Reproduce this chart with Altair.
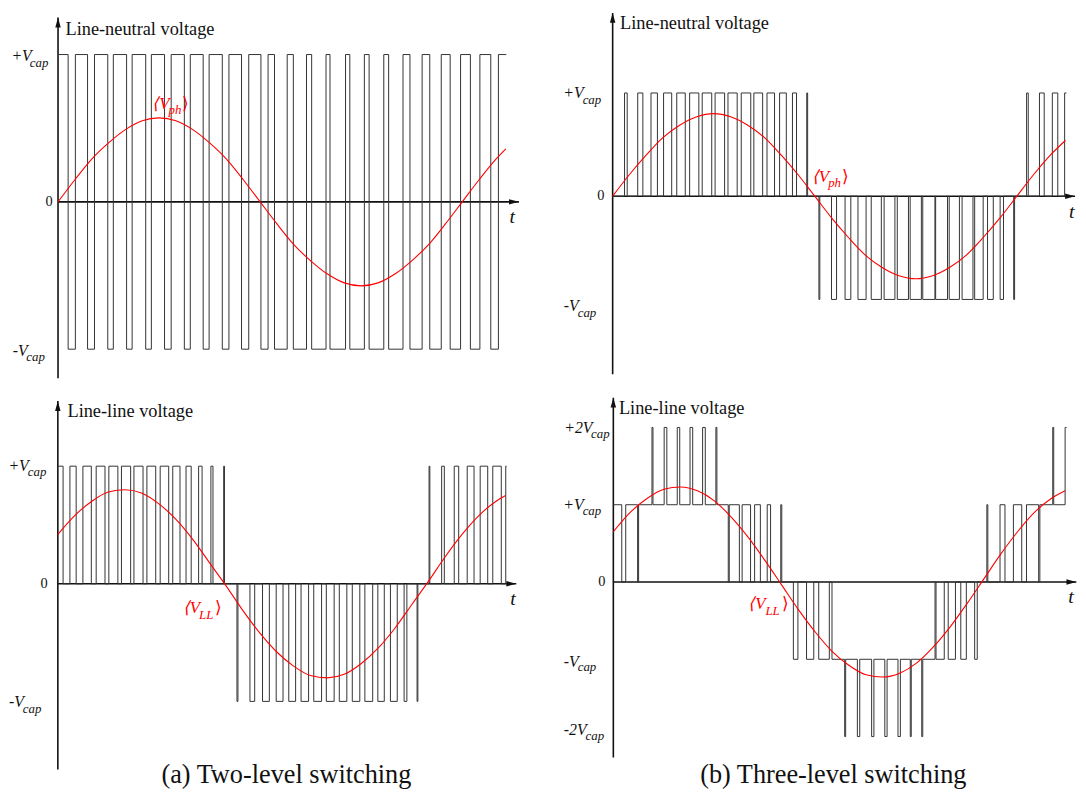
import altair as alt
import pandas as pd

# ================= DATA =================
# t: time in the figure's horizontal units (0 = vertical axis), v: voltage in units of Vcap.

# (a) two-level, line-neutral: switching instants and the level that follows each one
TL_EDGES = [0, 10.2, 17.5, 29.8, 36.8, 50.2, 55.8, 69.2, 74.8, 88.5,
            94.2, 107.5, 114.2, 127.5, 133.5, 146.5, 152.5, 165.8, 172.5, 185.2,
            192.5, 204.8, 212.0, 218.5, 231.3, 237.5, 250.8, 256.0, 270.5, 274.5,
            290.2, 294.5, 309.2, 314.0, 328.8, 333.7, 348.2, 355.2, 367.5, 375.2,
            386.8, 395.8, 406.3, 416.2, 425.8, 436.8, 444.5, 452.5]
TL_LEVELS = [1, -1, 1, -1, 1, -1, 1, -1, 1, -1,
             1, -1, 1, -1, 1, -1, 1, -1, 1, -1,
             1, -1, 1, -1, 1, -1, 1, -1, 1, -1,
             1, -1, 1, -1, 1, -1, 1, -1, 1, -1,
             1, -1, 1, -1, 1, -1, 1]

# (a) two-level, line-line
BL_EDGES = [0, 5.3, 12.2, 18.5, 25.3, 33.8, 38.7, 47.6, 51.5, 60.6,
            64.2, 73.5, 76.8, 86.0, 89.9, 98.8, 103.3, 111.9, 116.0, 123.3,
            129.4, 134.6, 142.1, 145.6, 154.5, 156.6, 167.4, 168.2,
            180.8, 181.8, 193.9, 198.7, 206.6, 213.5, 220.4, 227.3, 233.1, 240.0,
            245.5, 253.1, 258.3, 266.2, 271.0, 278.9, 284.1, 291.7, 297.2, 304.8,
            309.9, 317.8, 323.0, 329.5, 335.7, 342.6, 349.5, 352.3, 362.6, 363.4,
            374.7, 375.5, 387.4, 390.1, 400.1, 404.6, 413.2, 420.1, 426.3, 433.9,
            439.0, 447.6, 452.1, 453.0]
BL_LEVELS = [1, 0, 1, 0, 1, 0, 1, 0, 1, 0,
             1, 0, 1, 0, 1, 0, 1, 0, 1, 0,
             1, 0, 1, 0, 1, 0, 1, 0,
             -1, 0, -1, 0, -1, 0, -1, 0, -1, 0,
             -1, 0, -1, 0, -1, 0, -1, 0, -1, 0,
             -1, 0, -1, 0, -1, 0, -1, 0, -1, 0,
             1, 0, 1, 0, 1, 0, 1, 0, 1, 0,
             1, 0, 1]

# (b) three-level, line-neutral
TR_EDGES = [0, 12.0, 14.7, 25.3, 30.5, 38.7, 45.2, 51.4, 59.6, 64.7,
            73.3, 77.7, 87.0, 90.4, 100.0, 103.4, 113.0, 116.4, 125.7, 129.8,
            139.4, 142.5, 151.4, 155.8, 163.4, 168.5, 175.3, 181.5, 185.6, 195.9,
            196.8,
            208.2, 209.1, 220.9, 226.0, 234.6, 240.4, 247.6, 255.8, 261.0, 271.2,
            274.0, 284.9, 287.3, 298.6, 300.3, 311.6, 313.0, 325.3, 326.0, 338.0,
            339.7, 350.0, 352.7, 363.7, 365.4, 374.0, 378.4, 384.2, 391.1, 394.5,
            404.8, 405.7,
            417.8, 419.5, 430.8, 435.6, 443.8, 449.3, 456.2, 458.0]
TR_LEVELS = [0, 1, 0, 1, 0, 1, 0, 1, 0, 1,
             0, 1, 0, 1, 0, 1, 0, 1, 0, 1,
             0, 1, 0, 1, 0, 1, 0, 1, 0, 1,
             0,
             -1, 0, -1, 0, -1, 0, -1, 0, -1, 0,
             -1, 0, -1, 0, -1, 0, -1, 0, -1, 0,
             -1, 0, -1, 0, -1, 0, -1, 0, -1, 0,
             -1, 0,
             1, 0, 1, 0, 1, 0, 1]

# (b) three-level, line-line
BR_EDGES = [0, 8.5, 12.5, 24.5, 25.5, 39.0, 40.0, 51.3, 54.0, 64.5,
            67.0, 77.4, 80.1, 90.1, 92.8, 103.5, 104.5, 116.0, 117.0, 127.2,
            130.0, 138.5, 142.6, 148.4, 155.3, 158.7, 169.0, 170.0, 181.7, 186.3,
            195.0, 202.3, 207.3, 218.0, 220.7, 233.5, 234.5, 246.3, 248.7, 260.7,
            263.0, 274.0, 276.3, 287.3, 289.7, 299.7, 300.7, 311.3, 312.3, 324.7,
            325.7, 334.0, 338.0, 345.3, 350.7, 356.3, 364.7, 367.3, 377.0, 378.0,
            390.3, 395.3, 403.8, 412.2, 417.0, 429.3, 430.5, 443.5, 444.5, 456.0,
            457.5]
BR_LEVELS = [1, 0, 1, 0, 1, 2, 1, 2, 1, 2,
             1, 2, 1, 2, 1, 2, 1, 0, 1, 0,
             1, 0, 1, 0, 1, 0, 1, 0, -1, 0,
             -1, 0, -1, 0, -1, -2, -1, -2, -1, -2,
             -1, -2, -1, -2, -1, -2, -1, -2, -1, 0,
             -1, 0, -1, 0, -1, 0, -1, 0, 1, 0,
             1, 0, 1, 0, 1, 0, 1, 2, 1, 2]

# average (fundamental) curves
SINE_T = [0, 17, 34, 51, 68, 85, 102, 119, 136, 153, 170, 187, 204, 221,
          238, 255, 272, 289, 306, 323, 340, 357, 374, 391, 408, 425, 442]
TL_SINE_T = SINE_T + [452]
TL_SINE_V = [0, 0.15, 0.29, 0.40, 0.49, 0.55, 0.57, 0.55, 0.49, 0.40, 0.29, 0.15, 0, -0.15,
             -0.29, -0.40, -0.49, -0.55, -0.57, -0.55, -0.49, -0.40, -0.29, -0.15, 0, 0.15, 0.29, 0.36]
BL_SINE_T = SINE_T + [452]
BL_SINE_V = [0.42, 0.58, 0.70, 0.78, 0.80, 0.77, 0.68, 0.55, 0.38, 0.18, -0.02, -0.23, -0.42, -0.58,
             -0.70, -0.78, -0.80, -0.77, -0.68, -0.55, -0.38, -0.18, 0.02, 0.23, 0.42, 0.58, 0.70, 0.75]
TR_SINE_T = SINE_T + [457]
TR_SINE_V = [0, 0.21, 0.40, 0.57, 0.69, 0.77, 0.80, 0.77, 0.69, 0.57, 0.40, 0.21, 0, -0.21,
             -0.40, -0.57, -0.69, -0.77, -0.80, -0.77, -0.69, -0.57, -0.40, -0.21, 0, 0.21, 0.40, 0.54]
BR_SINE_T = SINE_T + [456]
BR_SINE_V = [0.65, 0.90, 1.08, 1.20, 1.23, 1.18, 1.05, 0.84, 0.58, 0.28, -0.04, -0.36, -0.65, -0.90,
             -1.08, -1.20, -1.23, -1.18, -1.05, -0.84, -0.58, -0.28, 0.04, 0.36, 0.65, 0.90, 1.08, 1.18]

# text: (text, t, v, size, colour, style, align)
INK = "#111111"
RED = "#ff0000"
TL_TEXT = [
    ("Line-neutral voltage", 7.5, 1.17, 18.5, INK, "normal", "left"),
    ("+V", -26.5, 0.99, 16, INK, "italic", "right"),
    ("cap", -28.5, 0.945, 13, INK, "italic", "left"),
    ("0", -5.5, 0.0, 14.5, INK, "normal", "right"),
    ("-V", -30.5, -1.01, 16, INK, "italic", "right"),
    ("cap", -32.0, -1.05, 13, INK, "italic", "left"),
    ("t", 458.5, -0.10, 20, INK, "italic", "center"),
    ("\u27e8V", 95.0, 0.666, 17, RED, "italic", "left"),
    ("ph", 111.5, 0.62, 13, RED, "italic", "left"),
    ("\u27e9", 125.0, 0.666, 17, RED, "normal", "left"),
]
BL_TEXT = [
    ("Line-line voltage", 9.7, 1.47, 18.5, INK, "normal", "left"),
    ("+V", -29.3, 1.0, 16, INK, "italic", "right"),
    ("cap", -30.3, 0.95, 13, INK, "italic", "left"),
    ("0", -10.3, 0.0, 14.5, INK, "normal", "right"),
    ("-V", -34.3, -1.007, 16, INK, "italic", "right"),
    ("cap", -35.3, -1.066, 13, INK, "italic", "left"),
    ("t", 459.4, -0.13, 20, INK, "italic", "center"),
    ("\u27e8V", 126.2, -0.206, 17, RED, "italic", "left"),
    ("LL", 142.5, -0.265, 13, RED, "italic", "left"),
    ("\u27e9", 158.5, -0.206, 17, RED, "normal", "left"),
    ("(a) Two-level switching", 230.7, -1.63, 26.5, INK, "normal", "center"),
]
TR_TEXT = [
    ("Line-neutral voltage", 7.4, 1.68, 18.5, INK, "normal", "left"),
    ("+V", -29.3, 1.0, 16, INK, "italic", "right"),
    ("cap", -30.3, 0.93, 13, INK, "italic", "left"),
    ("0", -8.3, 0.0, 14.5, INK, "normal", "right"),
    ("-V", -34.3, -1.06, 16, INK, "italic", "right"),
    ("cap", -35.3, -1.13, 13, INK, "italic", "left"),
    ("t", 463.5, -0.154, 20, INK, "italic", "center"),
    ("\u27e8V", 201.0, 0.185, 17, RED, "italic", "left"),
    ("ph", 217.5, 0.128, 13, RED, "italic", "left"),
    ("\u27e9", 231.0, 0.185, 17, RED, "normal", "left"),
]
BR_TEXT = [
    ("Line-line voltage", 5.6, 2.256, 18.5, INK, "normal", "left"),
    ("+2V", -21.0, 1.996, 16, INK, "italic", "right"),
    ("cap", -22.5, 1.913, 13, INK, "italic", "left"),
    ("+V", -30.0, 0.996, 16, INK, "italic", "right"),
    ("cap", -31.0, 0.919, 13, INK, "italic", "left"),
    ("0", -8.0, 0.0, 14.5, INK, "normal", "right"),
    ("-V", -35.0, -1.03, 16, INK, "italic", "right"),
    ("cap", -36.0, -1.106, 13, INK, "italic", "left"),
    ("-2V", -27.0, -1.914, 16, INK, "italic", "right"),
    ("cap", -28.0, -1.997, 13, INK, "italic", "left"),
    ("t", 462.0, -0.20, 20, INK, "italic", "center"),
    ("\u27e8V", 136.2, -0.286, 17, RED, "italic", "left"),
    ("LL", 153.5, -0.376, 13, RED, "italic", "left"),
    ("\u27e9", 170.0, -0.286, 17, RED, "normal", "left"),
    ("(b) Three-level switching", 222.0, -2.50, 26.5, INK, "normal", "center"),
]

# ================= LAYOUT (pixels) =================
# panel box on the page, position of the vertical axis / zero line, pixels per Vcap,
# and the extent of the drawn axes (in data units)
LAYOUT = {
    "TL": dict(x0=8, y0=8, w=545, h=382, ax=57.5, zy=199.0, ppv=148.7, vb=-1.197, vt=1.251, tt=465.2),
    "BL": dict(x0=8, y0=390, w=545, h=400, ax=57.3, zy=584.5, ppv=118.7, vb=-1.58, vt=1.554, tt=462.7),
    "TR": dict(x0=553, y0=8, w=533, h=382, ax=617.3, zy=193.3, ppv=104.2, vb=-1.725, vt=1.775, tt=466.7),
    "BR": dict(x0=553, y0=390, w=533, h=400, ax=618.0, zy=582.7, ppv=78.0, vb=-2.27, vt=2.385, tt=467.3),
}

FONT = "Liberation Serif"
ARROW_UP = "M0,-1L0.55,1L-0.55,1Z"
ARROW_RIGHT = "M1,0L-1,-0.55L-1,0.55Z"


def step_frame(edges, levels):
    assert len(levels) == len(edges) - 1, (len(edges), len(levels))
    ts = list(edges)
    vs = list(levels) + [levels[-1]]
    return pd.DataFrame({"t": ts, "v": vs})


def build_panel(edges, levels, sine_t, sine_v, texts, lay):
    assert len(sine_t) == len(sine_v)
    xdom = [lay["x0"] - lay["ax"], lay["x0"] + lay["w"] - lay["ax"]]
    ydom = [(lay["zy"] - (lay["y0"] + lay["h"])) / lay["ppv"], (lay["zy"] - lay["y0"]) / lay["ppv"]]
    xs = alt.Scale(domain=xdom, nice=False, zero=False)
    ys = alt.Scale(domain=ydom, nice=False, zero=False)

    def enc(ch):
        return ch.encode(x=alt.X("t:Q", scale=xs, axis=None), y=alt.Y("v:Q", scale=ys, axis=None))

    layers = []
    # axes
    axes_df = pd.DataFrame([
        {"t": 0, "v": lay["vb"], "t2": 0, "v2": lay["vt"]},
        {"t": 0, "v": 0, "t2": lay["tt"], "v2": 0},
    ])
    layers.append(alt.Chart(axes_df).mark_rule(color=INK, strokeWidth=1.6).encode(
        x=alt.X("t:Q", scale=xs, axis=None), y=alt.Y("v:Q", scale=ys, axis=None),
        x2="t2:Q", y2="v2:Q"))
    layers.append(enc(alt.Chart(pd.DataFrame({"t": [0], "v": [lay["vt"]]})).mark_point(
        shape=ARROW_UP, filled=True, size=100, color=INK, opacity=1, strokeWidth=0, yOffset=5)))
    layers.append(enc(alt.Chart(pd.DataFrame({"t": [lay["tt"]], "v": [0]})).mark_point(
        shape=ARROW_RIGHT, filled=True, size=100, color=INK, opacity=1, strokeWidth=0, xOffset=-5)))
    # switched waveform
    layers.append(enc(alt.Chart(step_frame(edges, levels)).mark_line(
        interpolate="step-after", color="#333333", strokeWidth=1)))
    # average curve
    layers.append(enc(alt.Chart(pd.DataFrame({"t": sine_t, "v": sine_v})).mark_line(
        interpolate="monotone", color=RED, strokeWidth=1.1)))
    # texts
    tdf = pd.DataFrame(texts, columns=["text", "t", "v", "size", "color", "style", "align"])
    for (style, align), sub in tdf.groupby(["style", "align"]):
        layers.append(alt.Chart(sub.reset_index(drop=True)).mark_text(
            font=FONT, fontStyle=style, align=align, baseline="middle").encode(
            x=alt.X("t:Q", scale=xs, axis=None), y=alt.Y("v:Q", scale=ys, axis=None),
            text="text:N",
            size=alt.Size("size:Q", scale=None, legend=None),
            color=alt.Color("color:N", scale=None, legend=None)))
    return alt.layer(*layers).properties(width=lay["w"], height=lay["h"])


tl = build_panel(TL_EDGES, TL_LEVELS, TL_SINE_T, TL_SINE_V, TL_TEXT, LAYOUT["TL"])
bl = build_panel(BL_EDGES, BL_LEVELS, BL_SINE_T, BL_SINE_V, BL_TEXT, LAYOUT["BL"])
tr = build_panel(TR_EDGES, TR_LEVELS, TR_SINE_T, TR_SINE_V, TR_TEXT, LAYOUT["TR"])
br = build_panel(BR_EDGES, BR_LEVELS, BR_SINE_T, BR_SINE_V, BR_TEXT, LAYOUT["BR"])

chart = alt.concat(tl, tr, bl, br, columns=2, spacing=0, bounds="flush").properties(
    padding=0, background="white"
).configure_view(strokeWidth=0)

chart.save("out.html", embed_options={"renderer": "svg", "actions": False})
